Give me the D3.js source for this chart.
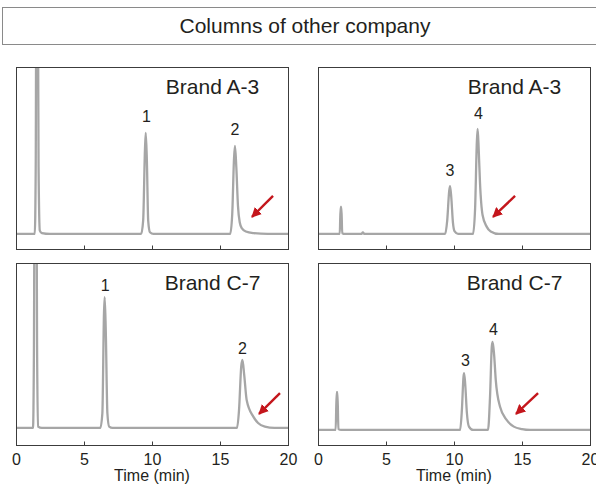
<!DOCTYPE html>
<html>
<head>
<meta charset="utf-8">
<script src="https://cdn.jsdelivr.net/npm/d3@7"></script>
<style>
  html, body { margin: 0; padding: 0; background: #fff; }
  svg { display: block; }
  text { font-family: "Liberation Sans", Arial, Helvetica, sans-serif; fill: #231f20; }
</style>
</head>
<body>
<svg id="chart" width="596" height="484"></svg>
<script>
// ---------------- DATA ----------------
const title = "Columns of other company";
const xTicks = [0, 5, 10, 15, 20];
const xLabel = "Time (min)";

// chromatogram traces: [time (min), signal]
const traceA3Left = [
  [0,0],[1.38,0],[1.45,40],[1.5,160],[1.6,160],[1.66,40],[1.75,2],[1.9,0.5],[2.5,0],
  [9.2,0],[9.35,8],[9.48,50],[9.54,60.5],[9.62,45],[9.72,8],[9.85,1],[10.1,0],
  [15.75,0],[15.9,12],[16.03,45],[16.1,52.7],[16.2,40],[16.32,17],[16.45,7],[16.6,3.5],[16.9,1.5],[17.5,0.5],[18.5,0],[20,0]
];
const traceA3Right = [
  [0,0],[1.6,0],[1.66,16.2],[1.72,16.2],[1.78,0.5],[2,0],[3.2,0],[3.3,1],[3.4,0],
  [9.35,0],[9.5,8],[9.65,26],[9.71,28.7],[9.8,22],[9.92,7],[10.05,1.5],[10.3,0],
  [11.4,0],[11.55,15],[11.68,55],[11.74,62.9],[11.82,50],[11.91,31],[12.1,11.4],[12.4,4.4],[12.7,1.5],[13.3,0],[20,0]
];
const traceC7Left = [
  [0,1.2],[1.25,1.2],[1.32,50],[1.37,160],[1.5,160],[1.55,50],[1.62,2],[1.9,1.2],
  [6.2,1.2],[6.35,10],[6.47,70],[6.52,79.6],[6.6,60],[6.72,10],[6.85,2],[7.1,1.2],
  [16.25,1.2],[16.4,12],[16.56,38],[16.65,41.9],[16.78,33],[16.96,18],[17.45,8],[17.8,4.2],[18.3,2],[19,1.2],[20,1.2]
];
const traceC7Right = [
  [0,0],[1.3,0],[1.37,22.7],[1.43,22.7],[1.5,0.5],[1.7,0],
  [10.45,0],[10.58,12],[10.7,32],[10.74,34.1],[10.82,28],[10.95,10],[11.1,2],[11.4,0],
  [12.5,0],[12.65,20],[12.78,50],[12.84,52.7],[12.95,45],[13.07,30],[13.38,14],[13.87,6],[14.4,2],[15,0.5],[15.6,0],[20,0]
];

// peak labels: [text, time, signal]
const labelsA3Left  = [["1", 9.6, 67], ["2", 16.1, 59]];
const labelsA3Right = [["3", 9.7, 34.7], ["4", 11.8, 69]];
const labelsC7Left  = [["1", 6.55, 83.5], ["2", 16.65, 45.5]];
const labelsC7Right = [["3", 10.85, 38.3], ["4", 12.9, 57]];

// arrows: [tailTime, tailSignal, tipTime, tipSignal]
const arrowA3Left  = [18.9, 22.8, 17.35, 10.2];
const arrowA3Right = [14.49, 22.8, 12.87, 10.2];
const arrowC7Left  = [19.41, 22.1, 17.87, 9.6];
const arrowC7Right = [16.18, 22.1, 14.56, 9.6];

const brandNames = ["Brand A-3", "Brand A-3", "Brand C-7", "Brand C-7"];

// ---------------- LAYOUT ----------------
const svg = d3.select("#chart");
const panelW = 272, panelH = 182;
const panels = [
  {x: 16,  y: 67,  trace: traceA3Left,  labels: labelsA3Left,  arrow: arrowA3Left,  name: brandNames[0], axisLabels: false},
  {x: 318, y: 67,  trace: traceA3Right, labels: labelsA3Right, arrow: arrowA3Right, name: brandNames[1], axisLabels: false},
  {x: 16,  y: 263, trace: traceC7Left,  labels: labelsC7Left,  arrow: arrowC7Left,  name: brandNames[2], axisLabels: true},
  {x: 318, y: 263, trace: traceC7Right, labels: labelsC7Right, arrow: arrowC7Right, name: brandNames[3], axisLabels: true}
];

const defs = svg.append("defs");
defs.append("marker")
  .attr("id", "arrowhead")
  .attr("viewBox", "0 0 10 10")
  .attr("refX", 9).attr("refY", 5)
  .attr("markerWidth", 4.2).attr("markerHeight", 4.2)
  .attr("markerUnits", "strokeWidth")
  .attr("orient", "auto")
  .append("path").attr("d", "M0,0 L10,5 L0,10 Z").attr("fill", "#c4161c");

// Title box
svg.append("rect")
  .attr("x", 2.5).attr("y", 7.5).attr("width", 600).attr("height", 37)
  .attr("fill", "#fff").attr("stroke", "#8a8a8a").attr("stroke-width", 1);
svg.append("text")
  .attr("x", 305).attr("y", 33)
  .attr("text-anchor", "middle")
  .attr("font-size", 21)
  .text(title);

const x = d3.scaleLinear().domain([0, 20]).range([0, panelW]);
const y = d3.scaleLinear().domain([-9, 100]).range([panelH, 0]);

panels.forEach((p, i) => {
  const g = svg.append("g").attr("transform", `translate(${p.x},${p.y})`);
  defs.append("clipPath").attr("id", "clip" + i)
    .append("rect").attr("x", 0).attr("y", 0).attr("width", panelW).attr("height", panelH);

  const line = d3.line()
    .x(d => x(d[0])).y(d => y(d[1]))
    .curve(d3.curveMonotoneX);

  g.append("path")
    .datum(p.trace)
    .attr("clip-path", `url(#clip${i})`)
    .attr("d", line)
    .attr("fill", "none")
    .attr("stroke", "#a6a6a6")
    .attr("stroke-width", 2.3)
    .attr("stroke-linejoin", "round");

  // frame
  g.append("rect")
    .attr("x", 0.5).attr("y", 0.5).attr("width", panelW).attr("height", panelH)
    .attr("fill", "none").attr("stroke", "#3c3c3c").attr("stroke-width", 1);

  // axis with inward ticks
  const axis = d3.axisBottom(x).tickValues(xTicks).tickSizeInner(-4).tickSizeOuter(0)
    .tickFormat(p.axisLabels ? d3.format("d") : "");
  const ax = g.append("g").attr("transform", `translate(0,${panelH + 0.5})`).call(axis);
  ax.select(".domain").remove();
  ax.selectAll(".tick line").attr("stroke", "#3c3c3c").attr("stroke-width", 1);
  ax.selectAll(".tick").filter(d => d === 0 || d === 20).select("line").remove();
  ax.selectAll(".tick text")
    .attr("y", 8).attr("dy", "0.71em")
    .attr("font-size", 16)
    .attr("font-family", "Liberation Sans, Arial, sans-serif")
    .attr("fill", "#231f20");

  if (p.axisLabels) {
    g.append("text")
      .attr("x", x(10)).attr("y", panelH + 36)
      .attr("text-anchor", "middle")
      .attr("font-size", 16)
      .text(xLabel);
  }

  // brand name
  g.append("text")
    .attr("x", x(14.45)).attr("y", y(84))
    .attr("text-anchor", "middle")
    .attr("font-size", 21)
    .text(p.name);

  // peak labels
  g.selectAll(".pk").data(p.labels).enter().append("text")
    .attr("class", "pk")
    .attr("x", d => x(d[1])).attr("y", d => y(d[2]))
    .attr("text-anchor", "middle")
    .attr("font-size", 16)
    .text(d => d[0]);

  // arrow
  const a = p.arrow;
  g.append("line")
    .attr("x1", x(a[0])).attr("y1", y(a[1]))
    .attr("x2", x(a[2])).attr("y2", y(a[3]))
    .attr("stroke", "#c4161c").attr("stroke-width", 2.4)
    .attr("marker-end", "url(#arrowhead)");
});
</script>
</body>
</html>
